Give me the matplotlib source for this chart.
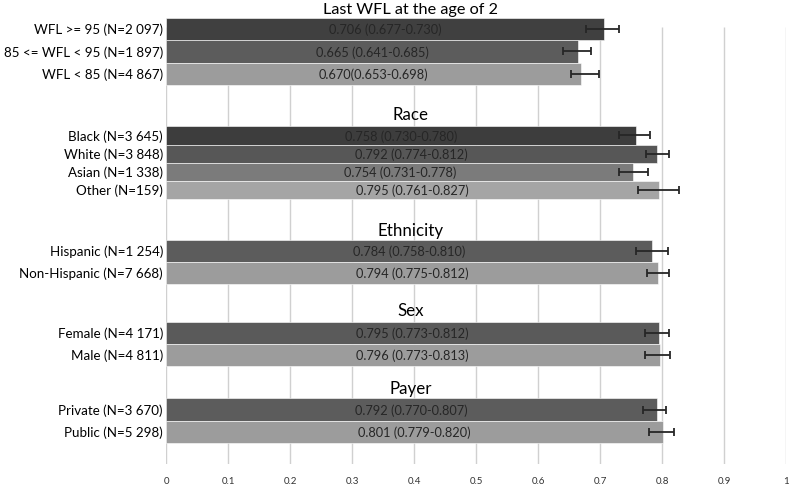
import matplotlib
matplotlib.use("Agg")
import matplotlib.pyplot as plt

plt.rcParams['font.family'] = ['Lato', 'DejaVu Sans']

# ---- data ----
group_titles = ["Last WFL at the age of 2", "Race", "Ethnicity", "Sex", "Payer"]
group_labels = [
    ["WFL >= 95 (N=2 097)", "85 <= WFL < 95 (N=1 897)", "WFL < 85 (N=4 867)"],
    ["Black (N=3 645)", "White (N=3 848)", "Asian (N=1 338)", "Other (N=159)"],
    ["Hispanic (N=1 254)", "Non-Hispanic (N=7 668)"],
    ["Female (N=4 171)", "Male (N=4 811)"],
    ["Private (N=3 670)", "Public (N=5 298)"],
]
group_values = [
    [0.706, 0.665, 0.670],
    [0.758, 0.792, 0.754, 0.795],
    [0.784, 0.794],
    [0.795, 0.796],
    [0.792, 0.801],
]
group_lower = [
    [0.677, 0.641, 0.653],
    [0.730, 0.774, 0.731, 0.761],
    [0.758, 0.775],
    [0.773, 0.773],
    [0.770, 0.779],
]
group_upper = [
    [0.730, 0.685, 0.698],
    [0.780, 0.812, 0.778, 0.827],
    [0.810, 0.812],
    [0.812, 0.813],
    [0.807, 0.820],
]
group_bar_text = [
    ["0.706 (0.677-0.730)", "0.665 (0.641-0.685)", "0.670(0.653-0.698)"],
    ["0.758 (0.730-0.780)", "0.792 (0.774-0.812)", "0.754 (0.731-0.778)", "0.795 (0.761-0.827)"],
    ["0.784 (0.758-0.810)", "0.794 (0.775-0.812)"],
    ["0.795 (0.773-0.812)", "0.796 (0.773-0.813)"],
    ["0.792 (0.770-0.807)", "0.801 (0.779-0.820)"],
]
x_ticks = [0, 0.1, 0.2, 0.3, 0.4, 0.5, 0.6, 0.7, 0.8, 0.9, 1]
x_tick_labels = ["0", "0.1", "0.2", "0.3", "0.4", "0.5", "0.6", "0.7", "0.8", "0.9", "1"]

# ---- layout (pixel-like vertical units) ----
group_colors = [
    ["#404040", "#5c5c5c", "#9c9c9c"],
    ["#3d3d3d", "#575757", "#7b7b7b", "#a5a5a5"],
    ["#5c5c5c", "#9c9c9c"],
    ["#5a5a5a", "#9c9c9c"],
    ["#5c5c5c", "#9c9c9c"],
]
group_top = [19.0, 127.3, 240.7, 323.3, 399.2]
group_h = [22.3, 18.2, 22.2, 21.85, 22.6]
title_y = [9.5, 115, 231, 311, 389]
title_size = [11.7, 12.2, 12.2, 12.2, 12.2]

W, H = 790, 485
fig = plt.figure(figsize=(W / 100, H / 100), dpi=100)
ax_top, ax_bot = 19, 465
ax_left, ax_right = 166, 786
ax = fig.add_axes([ax_left / W, 1 - ax_bot / H, (ax_right - ax_left) / W, (ax_bot - ax_top) / H])
ax.set_xlim(0, 1)
ax.set_ylim(ax_bot, ax_top)

ax.vlines(x_ticks, 28, ax_bot, colors="#d0d0d0", linewidth=1.0, zorder=0)

title_x = 0.394
for g in range(len(group_titles)):
    n = len(group_values[g])
    centers = [group_top[g] + group_h[g] * (i + 0.5) for i in range(n)]
    ax.barh(centers, group_values[g], height=group_h[g], color=group_colors[g],
            edgecolor="#ffffff", linewidth=0.4, zorder=2)
    xerr = [[v - lo for v, lo in zip(group_values[g], group_lower[g])],
            [hi - v for v, hi in zip(group_values[g], group_upper[g])]]
    ax.errorbar(group_values[g], centers, xerr=xerr, fmt="none", ecolor="#262626",
                elinewidth=1.3, capsize=2.6, capthick=1.3, zorder=3)
    for c, v, t, lab in zip(centers, group_values[g], group_bar_text[g], group_labels[g]):
        ax.text(v / 2, c, t, ha="center", va="center", fontsize=9.2, color="#262626", zorder=4)
        ax.text(-0.005, c, lab, ha="right", va="center", fontsize=9.6, color="#000000",
                transform=ax.transData, clip_on=False)
    ax.text(title_x, title_y[g], group_titles[g], ha="center", va="center",
            fontsize=title_size[g], color="#000000", zorder=4)

ax.set_xticks(x_ticks)
ax.set_xticklabels(x_tick_labels, fontsize=7, color="#333333")
ax.tick_params(axis="x", length=0, pad=9)
ax.set_yticks([])
for s in ax.spines.values():
    s.set_visible(False)

fig.savefig("out.png", dpi=100)
